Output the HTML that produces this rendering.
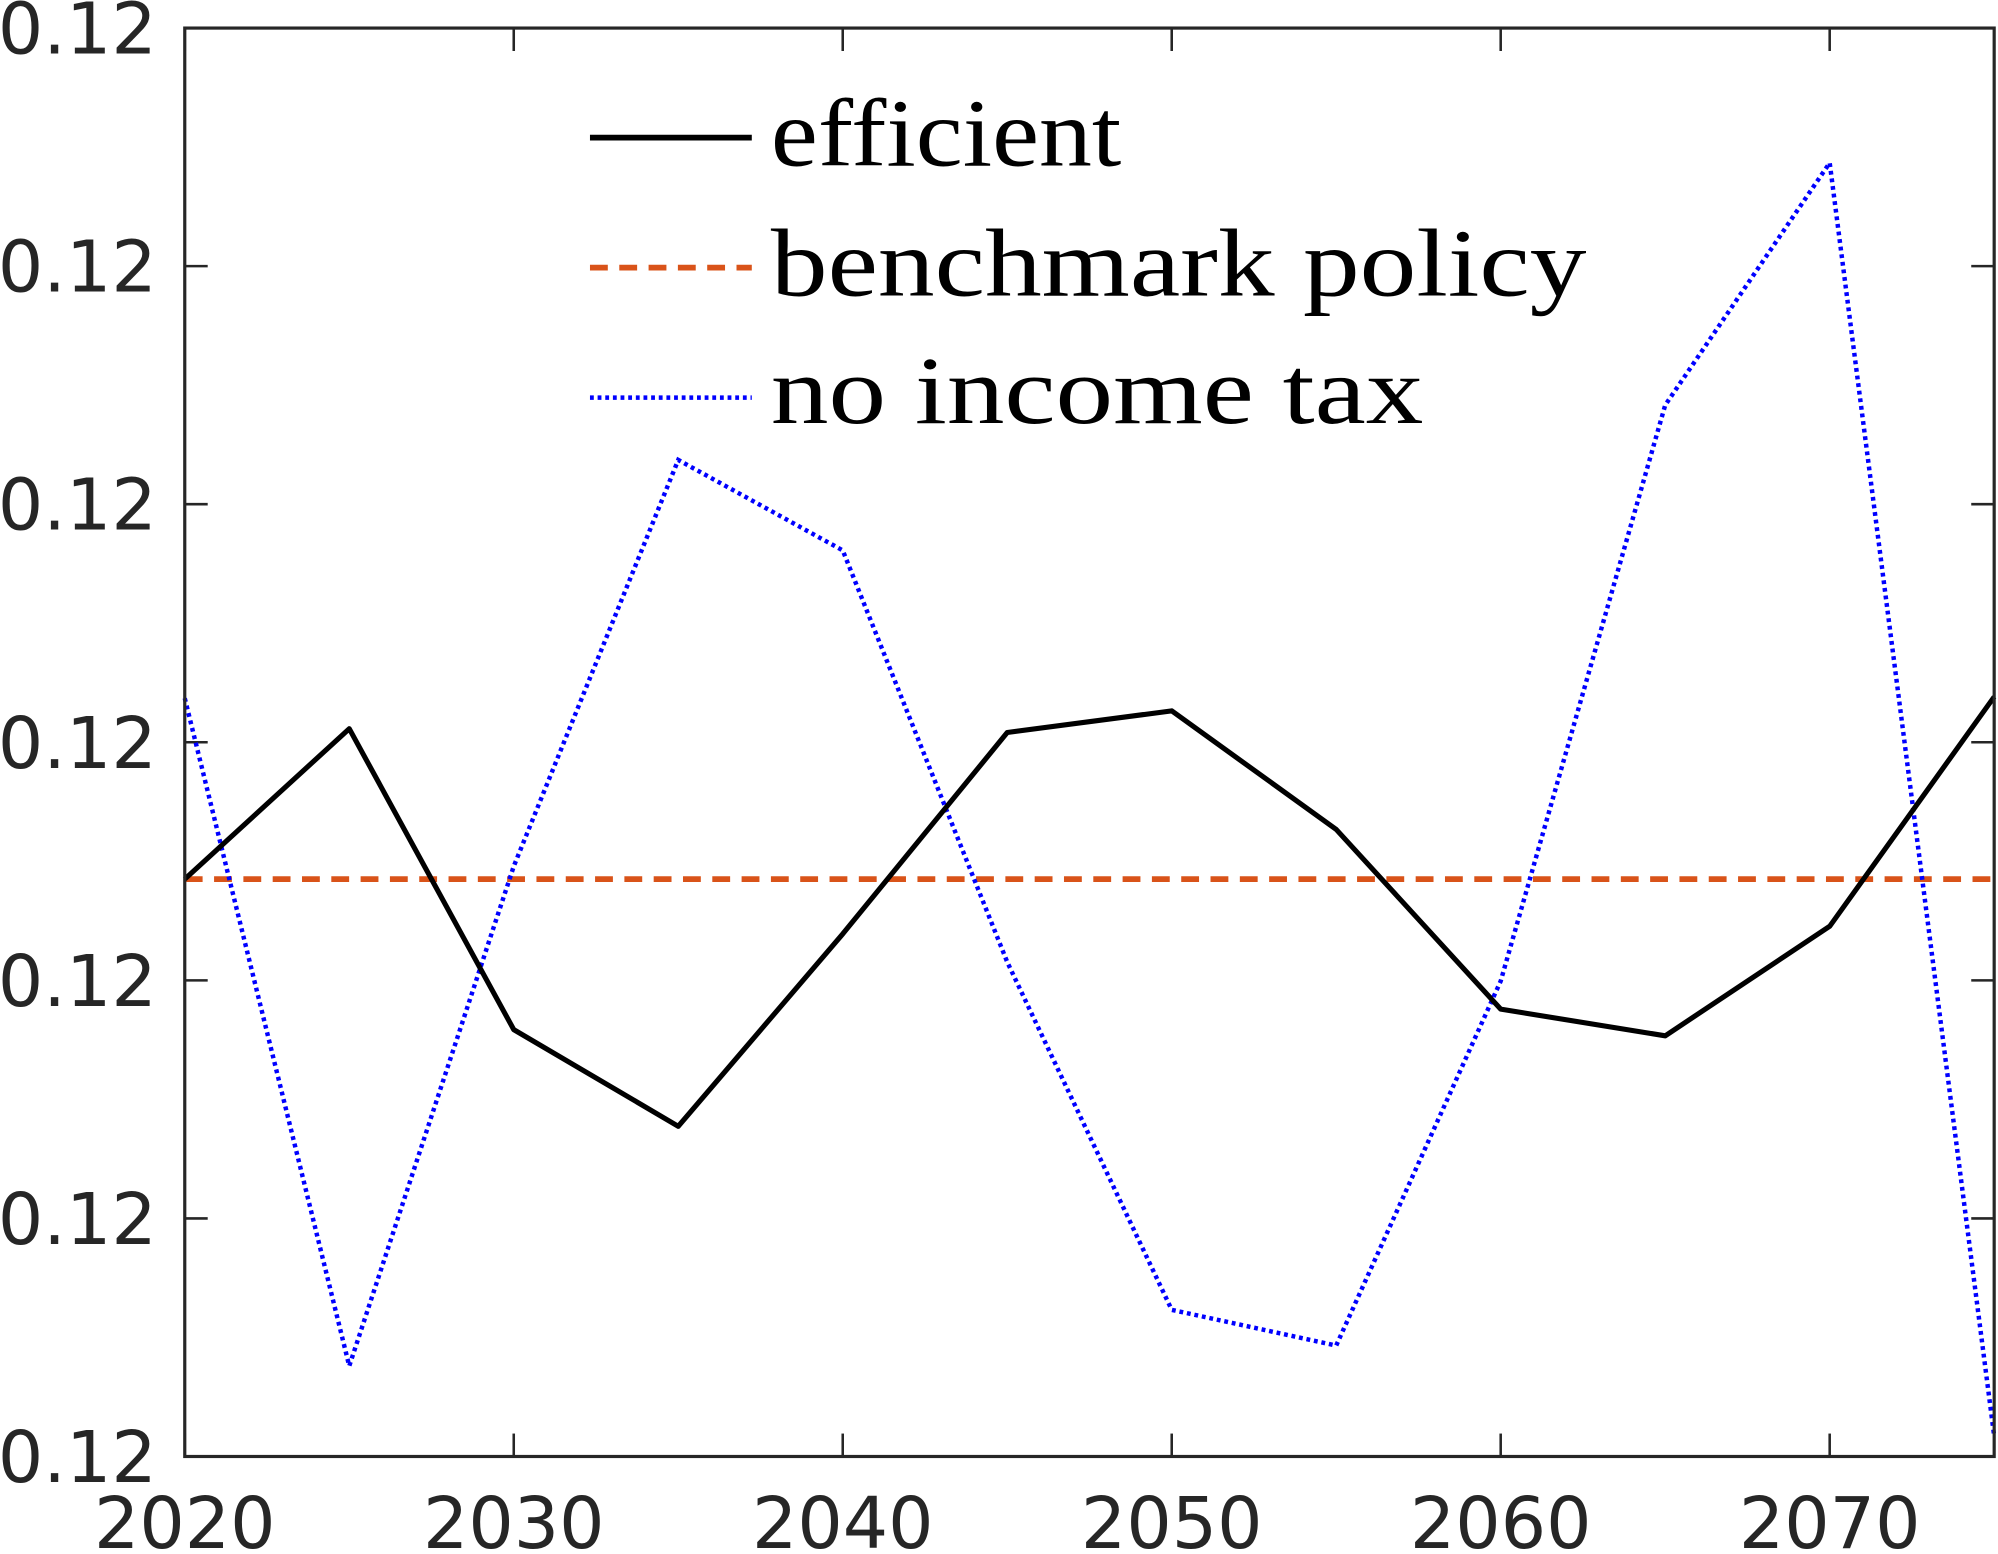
<!DOCTYPE html>
<html><head><meta charset="utf-8"><style>
html,body{margin:0;padding:0;background:#fff;}
svg{display:block;}
</style></head><body>
<svg id="chart" width="1998" height="1554" viewBox="0 0 1568 1219.5" xmlns="http://www.w3.org/2000/svg">
<rect x="0" y="0" width="1568" height="1220" fill="#fff"/>
<g id="grid"></g>
<g id="series"></g>
<rect x="145" y="22" width="1420" height="1121" fill="none" stroke="#262626" stroke-width="2.5"/>
<g id="legend" font-family="'Liberation Serif',serif" font-size="76" fill="#000">
  <line x1="463" y1="108" x2="590" y2="108" stroke="#000" stroke-width="4.5"/>
  <text x="605" y="130" textLength="275" lengthAdjust="spacingAndGlyphs">efficient</text>
  <line x1="463" y1="210" x2="590" y2="210" stroke="#D95319" stroke-width="4.5" stroke-dasharray="14,9"/>
  <text x="605" y="232" textLength="640" lengthAdjust="spacingAndGlyphs">benchmark policy</text>
  <line x1="463" y1="312" x2="590" y2="312" stroke="#0000FF" stroke-width="3.5" stroke-dasharray="3,3"/>
  <text x="605" y="332" textLength="512" lengthAdjust="spacingAndGlyphs">no income tax</text>
</g>
</svg>
<script>
const years = [2020,2025,2030,2035,2040,2045,2050,2055,2060,2065,2070,2075];
const efficient = [2.425,3.057,1.793,1.387,2.195,3.041,3.132,2.634,1.879,1.767,2.227,3.191];
const benchmark = [2.425,2.425,2.425,2.425,2.425,2.425,2.425,2.425,2.425,2.425,2.425,2.425];
const noIncomeTax = [3.185,0.380,2.479,4.186,3.806,2.077,0.616,0.466,1.997,4.416,5.434,0.086];
const xTicks = [2020,2030,2040,2050,2060,2070];
const yTicks = [0,1,2,3,4,5,6];
const yTickLabels = ["0.12","0.12","0.12","0.12","0.12","0.12","0.12"];

const L=145,R=1565,T=22,B=1143;
const xScale = v => L + (v-2020)/(2075-2020)*(R-L);
const yScale = v => B - v/6*(B-T);
const NS="http://www.w3.org/2000/svg";
const grid=document.getElementById('grid');
const series=document.getElementById('series');
function mk(tag,attrs,parent){const e=document.createElementNS(NS,tag);for(const k in attrs)e.setAttribute(k,attrs[k]);parent.appendChild(e);return e;}

xTicks.forEach(t=>{
  const x=xScale(t);
  const a=mk('line',{x1:x,y1:B,x2:x,y2:B-18,stroke:'#262626','stroke-width':2},grid);
  
  
  const b=mk('line',{x1:x,y1:T,x2:x,y2:T+18,stroke:'#262626','stroke-width':2},grid);
  
  
  const tx=mk('text',{x:x,y:1215,'text-anchor':'middle','font-family':"'DejaVu Sans','Liberation Sans',sans-serif",'font-size':56,fill:'#262626'},grid);
  tx.textContent=t;
  
  
});
yTicks.forEach((t,i)=>{
  const y=yScale(t);
  const a=mk('line',{x1:L,y1:y,x2:L+18,y2:y,stroke:'#262626','stroke-width':2},grid);
  
  
  const b=mk('line',{x1:R,y1:y,x2:R-18,y2:y,stroke:'#262626','stroke-width':2},grid);
  
  
  const tx=mk('text',{x:123,y:y+20,'text-anchor':'end','font-family':"'DejaVu Sans','Liberation Sans',sans-serif",'font-size':56,fill:'#262626'},grid);
  tx.textContent=yTickLabels[i];
  
  
});
function pts(vals){return vals.map((v,i)=>xScale(years[i])+','+yScale(v)).join(' ');}
const p1=mk('polyline',{points:pts(benchmark),fill:'none',stroke:'#D95319','stroke-width':4.5,'stroke-dasharray':'14,9'},series);


const p2=mk('polyline',{points:pts(noIncomeTax),fill:'none',stroke:'#0000FF','stroke-width':3.5,'stroke-dasharray':'3,3'},series);


const p3=mk('polyline',{points:pts(efficient),fill:'none',stroke:'#000','stroke-width':4,'stroke-linejoin':'round'},series);


</script>
</body></html>
